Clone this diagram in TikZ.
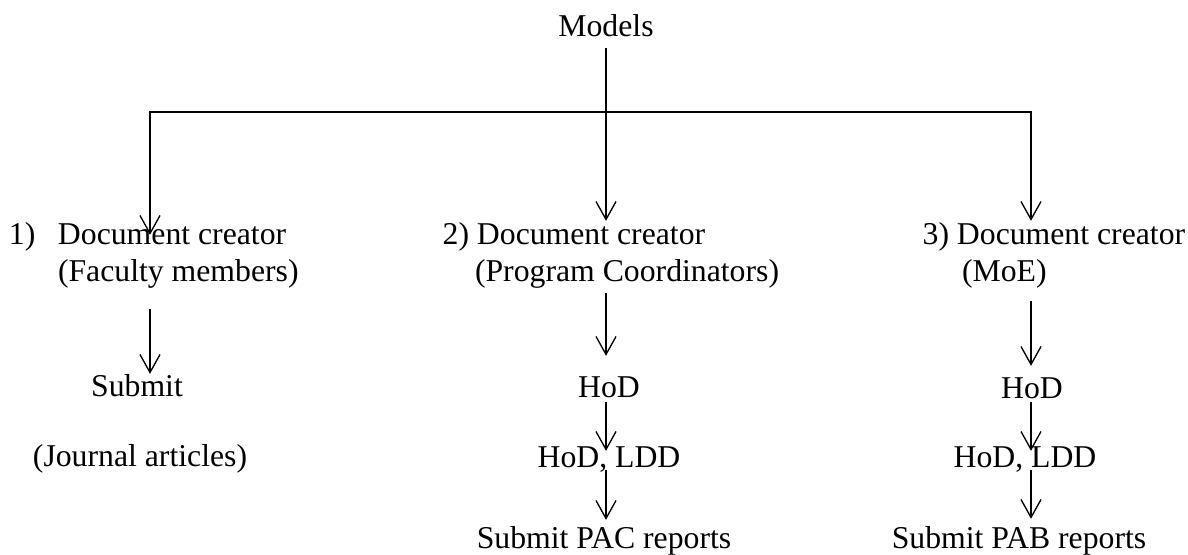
\documentclass[tikz,border=0pt]{standalone}
\usepackage{fontspec}
\setmainfont{Liberation Serif}
\usetikzlibrary{arrows.meta,calc}

\begin{document}
\begin{tikzpicture}[x=0.75pt,y=-0.75pt,
  lbl/.style={inner sep=0pt, outer sep=0pt, text height=0.7em, text depth=0.22em,
              font=\fontsize{23.8pt}{27.75pt}\selectfont},
  arr/.style={line width=1pt, -{Straight Barb[length=13.5pt,width=15pt]}},
  bar/.style={line width=1.5pt, line cap=rect}]
\useasboundingbox (0,0) rectangle (1188,555);

% column axes and the ends of the branching bar
\coordinate (ax1) at (150,0);
\coordinate (ax2) at (606,0);
\coordinate (ax3) at (1031,0);
\coordinate (barL) at (150,112);
\coordinate (barR) at (1031,112);

% root
\node[lbl, anchor=base] (models) at (606,37) {Models};

% column 1
\node[lbl, anchor=base west] (c1a) at (58,245) {\llap{1)\hspace{17pt}}Document creator};
\node[lbl, anchor=base west] (c1b) at (58,282) {(Faculty members)};
\node[lbl, anchor=base] (s1) at (137,397) {Submit};
\node[lbl, anchor=base] (j1) at (140,466) {(Journal articles)};

% column 2
\node[lbl, anchor=base west] (c2a) at (477,245) {\llap{2) }Document creator};
\node[lbl, anchor=base west] (c2b) at (475,282) {(Program Coordinators)};
\node[lbl, anchor=base] (h2) at (609,398) {HoD};
\node[lbl, anchor=base] (hl2) at (609,467) {HoD, LDD};
\node[lbl, anchor=base] (p2) at (604,548) {Submit PAC reports};

% column 3
\node[lbl, anchor=base west] (c3a) at (957,245) {\llap{3) }Document creator};
\node[lbl, anchor=base west] (c3b) at (962,282) {(MoE)};
\node[lbl, anchor=base] (h3) at (1032,399) {HoD};
\node[lbl, anchor=base] (hl3) at (1025,467) {HoD, LDD};
\node[lbl, anchor=base] (p3) at (1019,548) {Submit PAB reports};

% branching from the root
\draw[bar] (barL) -- (barR);
\draw[arr, shorten <=6pt, shorten >=11.1pt] (models.south -| ax2) -- (c2a.north -| ax2);
\draw[arr, shorten >=0.6pt] (barL) -- (c1a.north -| barL);
\draw[arr, shorten >=11.1pt] (barR) -- (c3a.north -| barR);

% column 1 flow
\draw[arr, shorten <=18pt, shorten >=10.35pt] (c1b.south -| ax1) -- (s1.north -| ax1);

% column 2 flow
\draw[arr, shorten <=6pt, shorten >=24.6pt] (c2b.south -| ax2) -- (h2.north -| ax2);
\draw[arr, shorten <=0.75pt, shorten >=5.1pt] (h2.south -| ax2) -- (hl2.north -| ax2);
\draw[arr, shorten >=14.1pt] (hl2.south -| ax2) -- (p2.north -| ax2);

% column 3 flow
\draw[arr, shorten <=12pt, shorten >=17.85pt] (c3b.south -| ax3) -- (h3.north -| ax3);
\draw[arr, shorten >=5.1pt] (h3.south -| ax3) -- (hl3.north -| ax3);
\draw[arr, shorten >=14.85pt] (hl3.south -| ax3) -- (p3.north -| ax3);
\end{tikzpicture}
\end{document}
